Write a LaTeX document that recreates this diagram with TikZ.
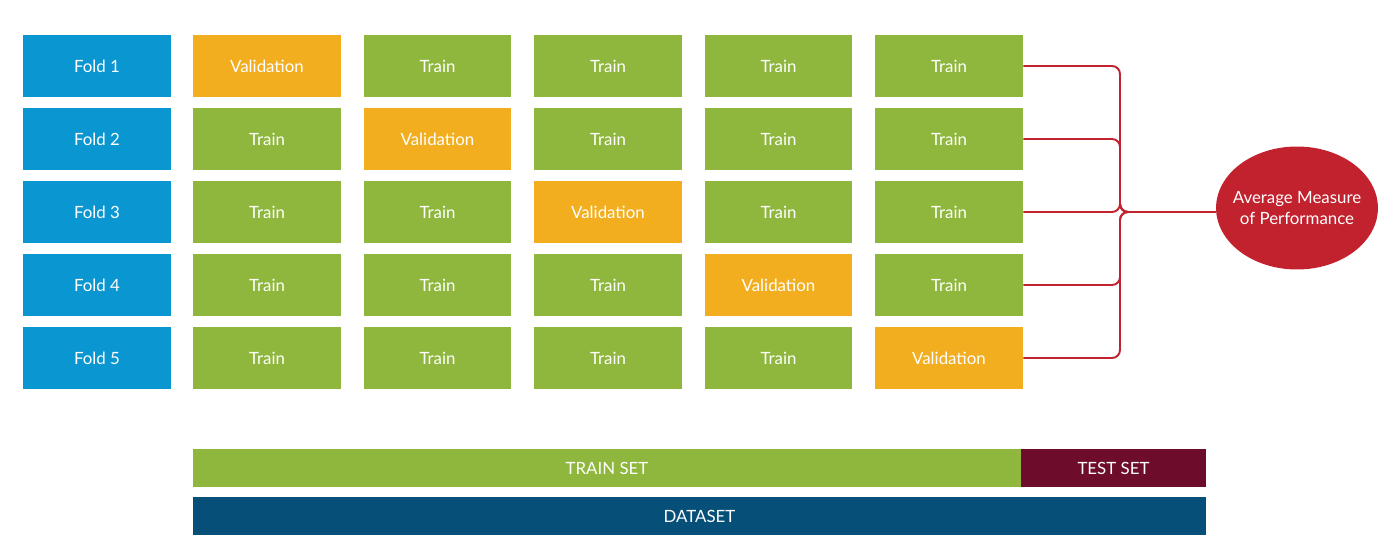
\documentclass[tikz,border=0pt]{standalone}
\usepackage{fontspec}
\setmainfont{Lato}
\usetikzlibrary{shapes.geometric}
\definecolor{foldblue}{HTML}{0A96D0}
\definecolor{traingreen}{HTML}{8FB73E}
\definecolor{validorange}{HTML}{F2AE1F}
\definecolor{avgred}{HTML}{C1222E}
\definecolor{testred}{HTML}{6D0C2B}
\definecolor{datanavy}{HTML}{064F79}

\begin{document}
\begin{tikzpicture}[x=0.02cm,y=-0.02cm,
  cell/.style={rectangle,minimum width=2.96cm,minimum height=1.24cm,inner sep=0pt,text=white,font=\fontsize{9.6}{11}\selectfont},
  fold/.style={cell,fill=foldblue},
  train/.style={cell,fill=traingreen},
  valid/.style={cell,fill=validorange},
  bar/.style={rectangle,minimum height=0.76cm,inner sep=0pt,text=white,font=\fontsize{9.6}{11}\selectfont},
  link/.style={draw=avgred,line width=1.1pt,rounded corners=0.16cm}]
\useasboundingbox (0,0) rectangle (1400,560);
% folds
\foreach \r in {1,...,5}{
  \node[fold] (f\r) at (97,{66+73*(\r-1)}) {Fold \r};
  \foreach \c in {1,...,5}{
    \ifnum\c=\r \def\sty{valid}\def\lbl{Validation}\else\def\sty{train}\def\lbl{Train}\fi
    \node[\sty] (b\r\c) at ({267+170.5*(\c-1)},{66+73*(\r-1)}) {\lbl};
  }
}
% average
\node[ellipse,fill=avgred,text=white,minimum width=3.2cm,minimum height=2.46cm,inner xsep=-0.14cm,inner ysep=0pt,align=center,font=\fontsize{9.6}{12}\selectfont] (avg) at (1297,208) {Average Measure\\of Performance};
\coordinate (join) at (1120,212);
\foreach \r in {1,...,5}
  \draw[link] (b\r5.east) -| (join) -- (avg.west |- join);
% sets
\node[bar,fill=traingreen,minimum width=16.56cm] (trainset) at (607,468) {TRAIN SET};
\node[bar,fill=testred,minimum width=3.7cm] (testset) at (1113.5,468) {TEST SET};
\node[bar,fill=datanavy,minimum width=20.26cm] (dataset) at (699.5,516) {DATASET};
\end{tikzpicture}
\end{document}
